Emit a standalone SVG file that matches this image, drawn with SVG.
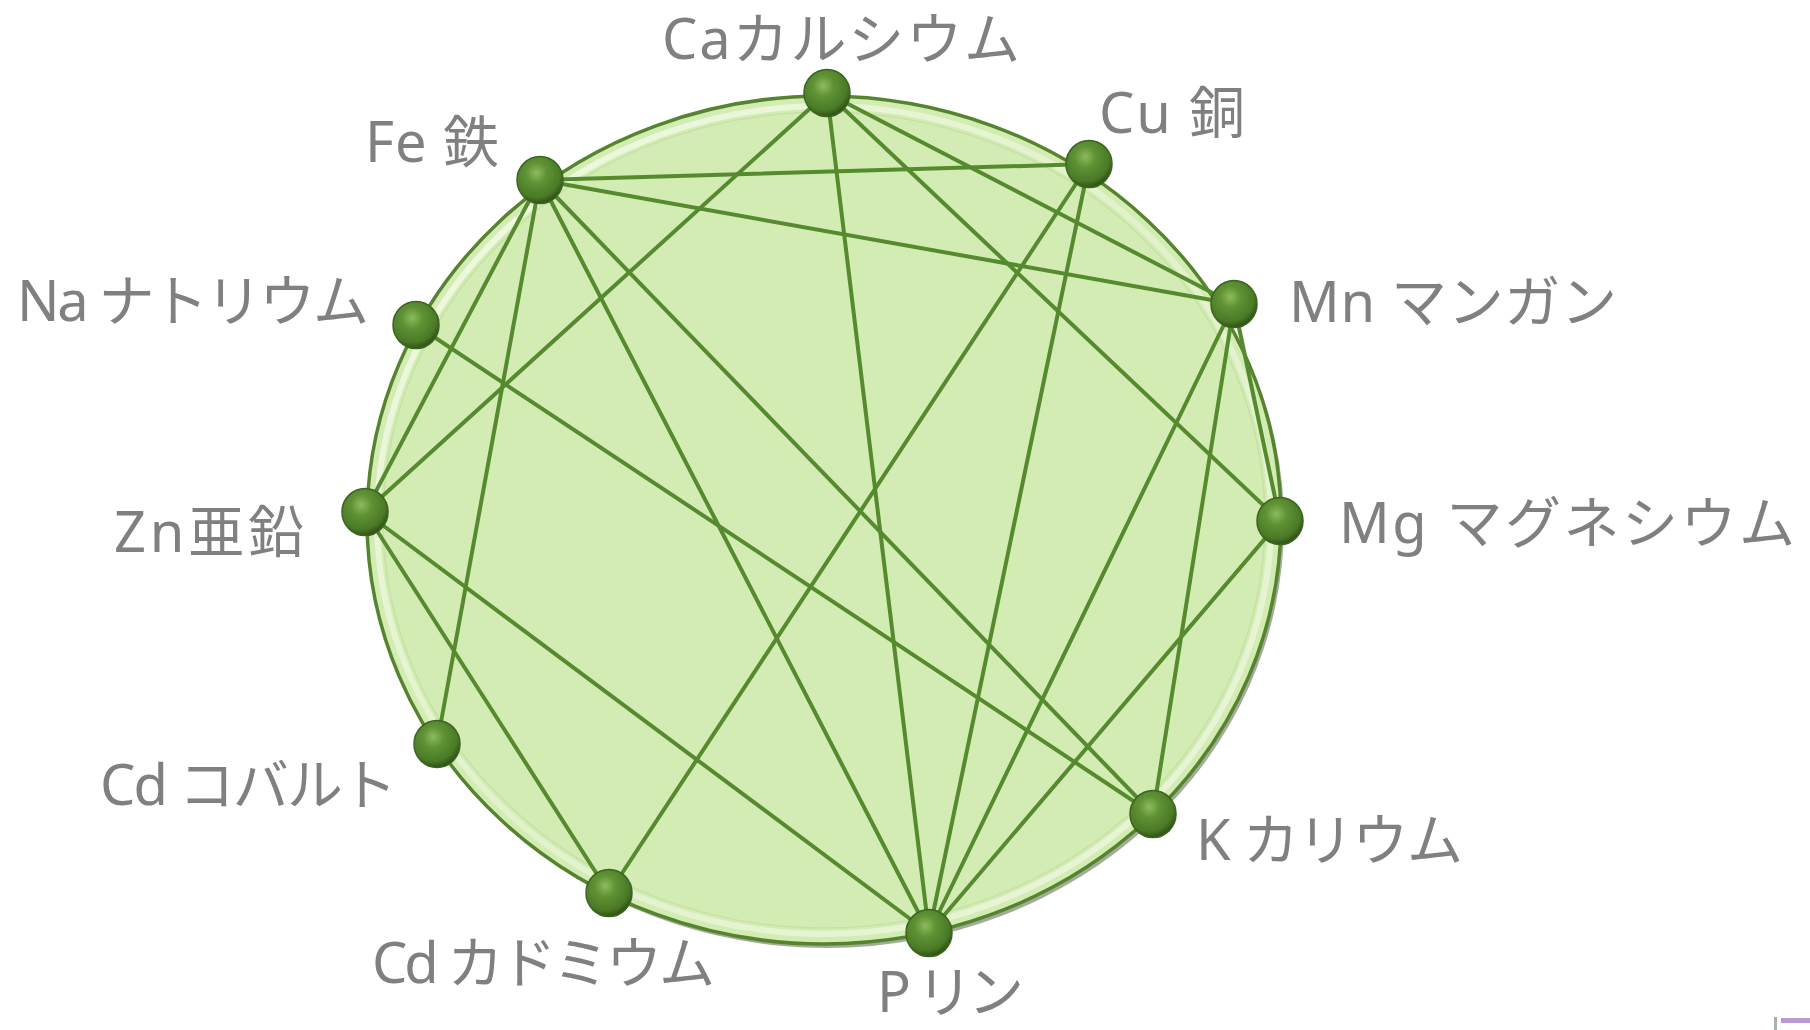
<svg xmlns="http://www.w3.org/2000/svg" width="1810" height="1030" viewBox="0 0 1810 1030">
<defs>
<radialGradient id="ball" cx="0.42" cy="0.35" r="0.65">
<stop offset="0" stop-color="#8dbb5e"/>
<stop offset="0.35" stop-color="#5f9234"/>
<stop offset="0.8" stop-color="#4a7a26"/>
<stop offset="1" stop-color="#2f5214"/>
</radialGradient>
<linearGradient id="rim" x1="0" y1="0" x2="1" y2="1">
<stop offset="0" stop-color="#f4fbe8" stop-opacity="0.95"/>
<stop offset="0.5" stop-color="#eaf6da" stop-opacity="0.6"/>
<stop offset="1" stop-color="#ffffff" stop-opacity="0.5"/>
</linearGradient>
<style>
.lbl{font-family:"Noto Sans","Noto Sans CJK JP",sans-serif;font-size:56px;fill:#808080}
.edge{stroke:#568a2f;stroke-width:4;fill:none;stroke-linecap:round}
.node{fill:url(#ball);stroke:#3c6420;stroke-width:1.5}
</style>
</defs>
<rect width="1810" height="1030" fill="#ffffff"/>
<g id="disc">
<ellipse cx="827" cy="524" rx="457" ry="424" fill="#2f4a18" opacity="0.45"/>
<ellipse cx="824" cy="520" rx="457" ry="424" fill="#d3ecb3" stroke="#56842e" stroke-width="3.5"/>
<ellipse cx="824" cy="520" rx="447" ry="414" fill="none" stroke="url(#rim)" stroke-width="6"/>
<ellipse cx="824" cy="520" rx="441" ry="408" fill="none" stroke="#c3dda2" stroke-width="1.5" opacity="0.8"/>
</g>
<g id="connectors">
<line class="edge" x1="540" y1="180" x2="1089" y2="164"/>
<line class="edge" x1="540" y1="180" x2="1234" y2="304"/>
<line class="edge" x1="540" y1="180" x2="365" y2="512"/>
<line class="edge" x1="540" y1="180" x2="437" y2="744"/>
<line class="edge" x1="540" y1="180" x2="929" y2="933"/>
<line class="edge" x1="540" y1="180" x2="1153" y2="814"/>
<line class="edge" x1="827" y1="93" x2="365" y2="512"/>
<line class="edge" x1="827" y1="93" x2="929" y2="933"/>
<line class="edge" x1="827" y1="93" x2="1234" y2="304"/>
<line class="edge" x1="827" y1="93" x2="1280" y2="521"/>
<line class="edge" x1="1089" y1="164" x2="609" y2="893"/>
<line class="edge" x1="1089" y1="164" x2="929" y2="933"/>
<line class="edge" x1="1234" y1="304" x2="1280" y2="521"/>
<line class="edge" x1="1234" y1="304" x2="929" y2="933"/>
<line class="edge" x1="1234" y1="304" x2="1153" y2="814"/>
<line class="edge" x1="1280" y1="521" x2="929" y2="933"/>
<line class="edge" x1="416" y1="325" x2="1153" y2="814"/>
<line class="edge" x1="365" y1="512" x2="609" y2="893"/>
<line class="edge" x1="365" y1="512" x2="929" y2="933"/>
</g>
<g id="n-ca"><ellipse class="node" cx="827" cy="93" rx="23" ry="23.5"/><text class="lbl" x="662" y="59" textLength="358">Caカルシウム</text></g>
<g id="n-cu"><ellipse class="node" cx="1089" cy="164" rx="23" ry="23.5"/><text class="lbl" x="1099" y="133" textLength="146">Cu 銅</text></g>
<g id="n-fe"><ellipse class="node" cx="540" cy="180" rx="23" ry="23.5"/><text class="lbl" x="365" y="162" textLength="134">Fe 鉄</text></g>
<g id="n-mn"><ellipse class="node" cx="1234" cy="304" rx="23" ry="23.5"/><text class="lbl" x="1289" y="322" textLength="328">Mn マンガン</text></g>
<g id="n-na"><ellipse class="node" cx="416" cy="325" rx="23" ry="23.5"/><text class="lbl" x="17" y="321" textLength="352">Na ナトリウム</text></g>
<g id="n-zn"><ellipse class="node" cx="365" cy="512" rx="23" ry="23.5"/><text class="lbl" x="114" y="552" textLength="190">Zn亜鉛</text></g>
<g id="n-mg"><ellipse class="node" cx="1280" cy="521" rx="23" ry="23.5"/><text class="lbl" x="1339" y="543" textLength="456">Mg マグネシウム</text></g>
<g id="n-co"><ellipse class="node" cx="437" cy="744" rx="23" ry="23.5"/><text class="lbl" x="100" y="805" textLength="297">Cd コバルト</text></g>
<g id="n-k"><ellipse class="node" cx="1153" cy="814" rx="23" ry="23.5"/><text class="lbl" x="1196" y="860" textLength="267">K カリウム</text></g>
<g id="n-cd"><ellipse class="node" cx="609" cy="893" rx="23" ry="23.5"/><text class="lbl" x="372" y="983" textLength="343">Cd カドミウム</text></g>
<g id="n-p"><ellipse class="node" cx="929" cy="933" rx="23" ry="23.5"/><text class="lbl" x="877" y="1012" textLength="147">P リン</text></g>
<g id="corner">
<rect x="1774" y="1017" width="3" height="13" fill="#a9b2b2"/>
<rect x="1781" y="1018" width="29" height="5" fill="#b99bd2"/>
</g>
</svg>
